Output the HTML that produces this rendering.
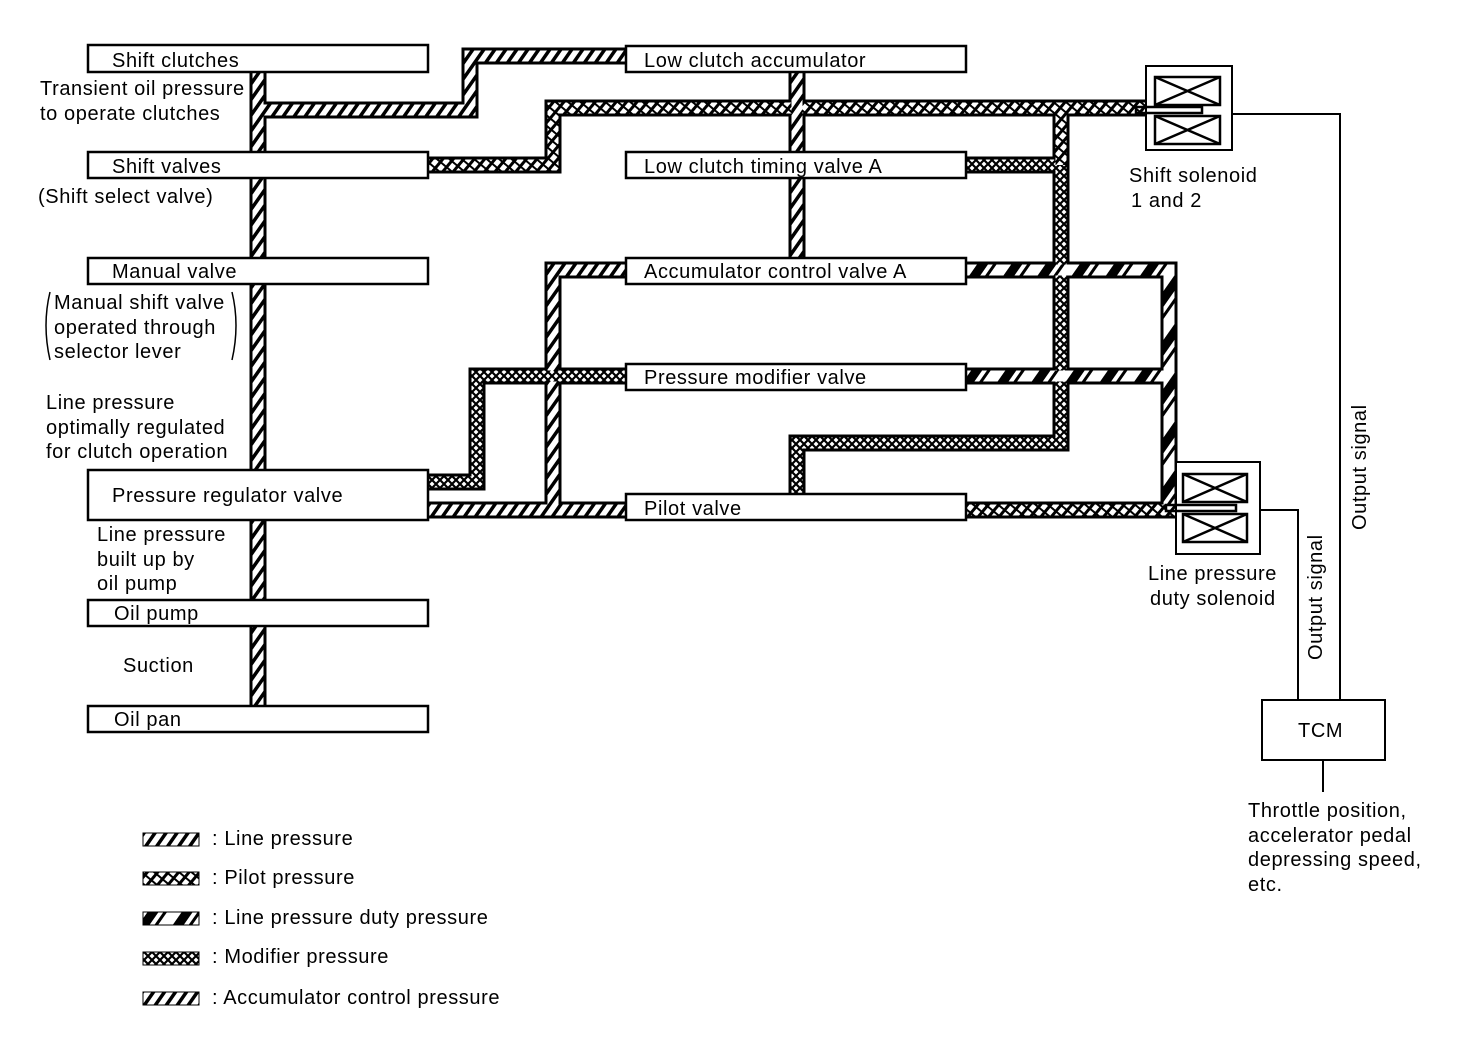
<!DOCTYPE html>
<html><head><meta charset="utf-8"><style>
body{margin:0;background:#fff}
svg{display:block}
text{font-family:"Liberation Sans",sans-serif;font-size:20px;letter-spacing:0.6px;fill:#000}
</style></head><body>
<svg width="1472" height="1042" viewBox="0 0 1472 1042" xmlns="http://www.w3.org/2000/svg">
<defs>
<pattern id="line" width="9" height="9" patternUnits="userSpaceOnUse" patternTransform="rotate(35)"><rect width="9" height="9" fill="#fff"/><rect width="3.5" height="9" fill="#000"/></pattern>
<pattern id="pilot" width="8" height="8" patternUnits="userSpaceOnUse" patternTransform="rotate(40)"><rect width="8" height="8" fill="#fff"/><rect width="3" height="8" fill="#000"/><rect x="3" y="0" width="5" height="2" fill="#000"/></pattern>
<pattern id="duty" width="28" height="28" patternUnits="userSpaceOnUse" patternTransform="rotate(35)"><rect width="28" height="28" fill="#fff"/><rect width="9" height="28" fill="#000"/><rect x="13" width="3" height="28" fill="#000"/></pattern>
<pattern id="mod" width="8" height="8" patternUnits="userSpaceOnUse"><rect width="8" height="8" fill="#fff"/><path d="M0 0L8 8M8 0L0 8" stroke="#000" stroke-width="2.2"/></pattern>
</defs>
<g fill="none" stroke-linejoin="miter" stroke-linecap="butt">
<g stroke="#000" stroke-width="17">
<path d="M258 72V706"/><path d="M258 110H470V56H626"/>
<path d="M428 165H553V108H1150"/><path d="M797 72V258"/>
<path d="M966 165H1061V443H797V494"/><path d="M1061 108V165"/>
<path d="M428 510H626"/><path d="M553 510V270H626"/>
<path d="M428 482H477V376H626"/>
<path d="M966 270H1169V510"/><path d="M966 376H1169"/><path d="M966 510H1176"/>
</g>
<path d="M258 72V706" stroke="url(#line)" stroke-width="11"/>
<path d="M258 110H470V56H626" stroke="url(#line)" stroke-width="11"/>
<path d="M428 165H553V108H1150" stroke="url(#pilot)" stroke-width="11"/>
<path d="M797 72V258" stroke="url(#line)" stroke-width="11"/>
<path d="M966 165H1061V443H797V494" stroke="url(#mod)" stroke-width="11"/>
<path d="M1061 108V165" stroke="url(#pilot)" stroke-width="11"/>
<path d="M428 510H626" stroke="url(#line)" stroke-width="11"/>
<path d="M553 510V270H626" stroke="url(#line)" stroke-width="11"/>
<path d="M428 482H477V376H626" stroke="url(#mod)" stroke-width="11"/>
<path d="M966 270H1169V510" stroke="url(#duty)" stroke-width="11"/>
<path d="M966 376H1169" stroke="url(#duty)" stroke-width="11"/>
<path d="M966 510H1176" stroke="url(#pilot)" stroke-width="11"/>
</g>
<g fill="#fff" stroke="#000" stroke-width="2.5">
<rect x="88" y="45" width="340" height="27"/>
<rect x="88" y="152" width="340" height="26"/>
<rect x="88" y="258" width="340" height="26"/>
<rect x="88" y="470" width="340" height="50"/>
<rect x="88" y="600" width="340" height="26"/>
<rect x="88" y="706" width="340" height="26"/>
<rect x="626" y="46" width="340" height="26"/>
<rect x="626" y="152" width="340" height="26"/>
<rect x="626" y="258" width="340" height="26"/>
<rect x="626" y="364" width="340" height="26"/>
<rect x="626" y="494" width="340" height="26"/>
<rect x="1146" y="66" width="86" height="84" stroke-width="2"/>
<rect x="1176" y="462" width="84" height="92" stroke-width="2"/>
<rect x="1262" y="700" width="123" height="60" stroke-width="2"/>
</g>
<g fill="none" stroke="#000" stroke-width="2.5">
<rect x="1155" y="77" width="65" height="28"/><path d="M1155 77L1220 105M1220 77L1155 105"/>
<rect x="1155" y="116" width="65" height="28"/><path d="M1155 116L1220 144M1220 116L1155 144"/>
<rect x="1136" y="107" width="66" height="6"/>
<rect x="1183" y="474" width="64" height="28"/><path d="M1183 474L1247 502M1247 474L1183 502"/>
<rect x="1183" y="514" width="64" height="28"/><path d="M1183 514L1247 542M1247 514L1183 542"/>
<rect x="1166" y="505" width="70" height="6"/>
<path d="M1232 114H1340V700M1260 510H1298V700M1323 760V792" stroke-width="2"/>
<path d="M50 292Q42 325 50 360M232 292Q240 325 232 360" stroke-width="1.5"/>
</g>
<text x="112" y="67">Shift clutches</text>
<text x="40" y="95">Transient oil pressure</text>
<text x="40" y="120">to operate clutches</text>
<text x="112" y="173">Shift valves</text>
<text x="38" y="203">(Shift select valve)</text>
<text x="112" y="278">Manual valve</text>
<text x="54" y="309">Manual shift valve</text>
<text x="54" y="334">operated through</text>
<text x="54" y="358">selector lever</text>
<text x="46" y="409">Line pressure</text>
<text x="46" y="434">optimally regulated</text>
<text x="46" y="458">for clutch operation</text>
<text x="112" y="502">Pressure regulator valve</text>
<text x="97" y="541">Line pressure</text>
<text x="97" y="566">built up by</text>
<text x="97" y="590">oil pump</text>
<text x="114" y="620">Oil pump</text>
<text x="123" y="672">Suction</text>
<text x="114" y="726">Oil pan</text>
<text x="644" y="67">Low clutch accumulator</text>
<text x="644" y="173">Low clutch timing valve A</text>
<text x="644" y="278">Accumulator control valve A</text>
<text x="644" y="384">Pressure modifier valve</text>
<text x="644" y="515">Pilot valve</text>
<text x="1129" y="182">Shift solenoid</text>
<text x="1131" y="207">1 and 2</text>
<text x="1148" y="580">Line pressure</text>
<text x="1150" y="605">duty solenoid</text>
<text x="1298" y="737">TCM</text>
<text x="1248" y="817">Throttle position,</text>
<text x="1248" y="842">accelerator pedal</text>
<text x="1248" y="866">depressing speed,</text>
<text x="1248" y="891">etc.</text>
<text transform="translate(1366 530) rotate(-90)">Output signal</text>
<text transform="translate(1322 660) rotate(-90)">Output signal</text>
<g stroke="#000" stroke-width="1">
<rect x="143" y="833" width="56" height="13" fill="url(#line)"/>
<rect x="143" y="872" width="56" height="13" fill="url(#pilot)"/>
<rect x="143" y="912" width="56" height="13" fill="url(#duty)"/>
<rect x="143" y="952" width="56" height="13" fill="url(#mod)"/>
<rect x="143" y="992" width="56" height="13" fill="url(#line)"/>
</g>
<text x="212" y="845">:  Line pressure</text>
<text x="212" y="884">:  Pilot pressure</text>
<text x="212" y="924">:  Line pressure duty pressure</text>
<text x="212" y="963">:  Modifier pressure</text>
<text x="212" y="1004">:  Accumulator control pressure</text>
</svg>
</body></html>
